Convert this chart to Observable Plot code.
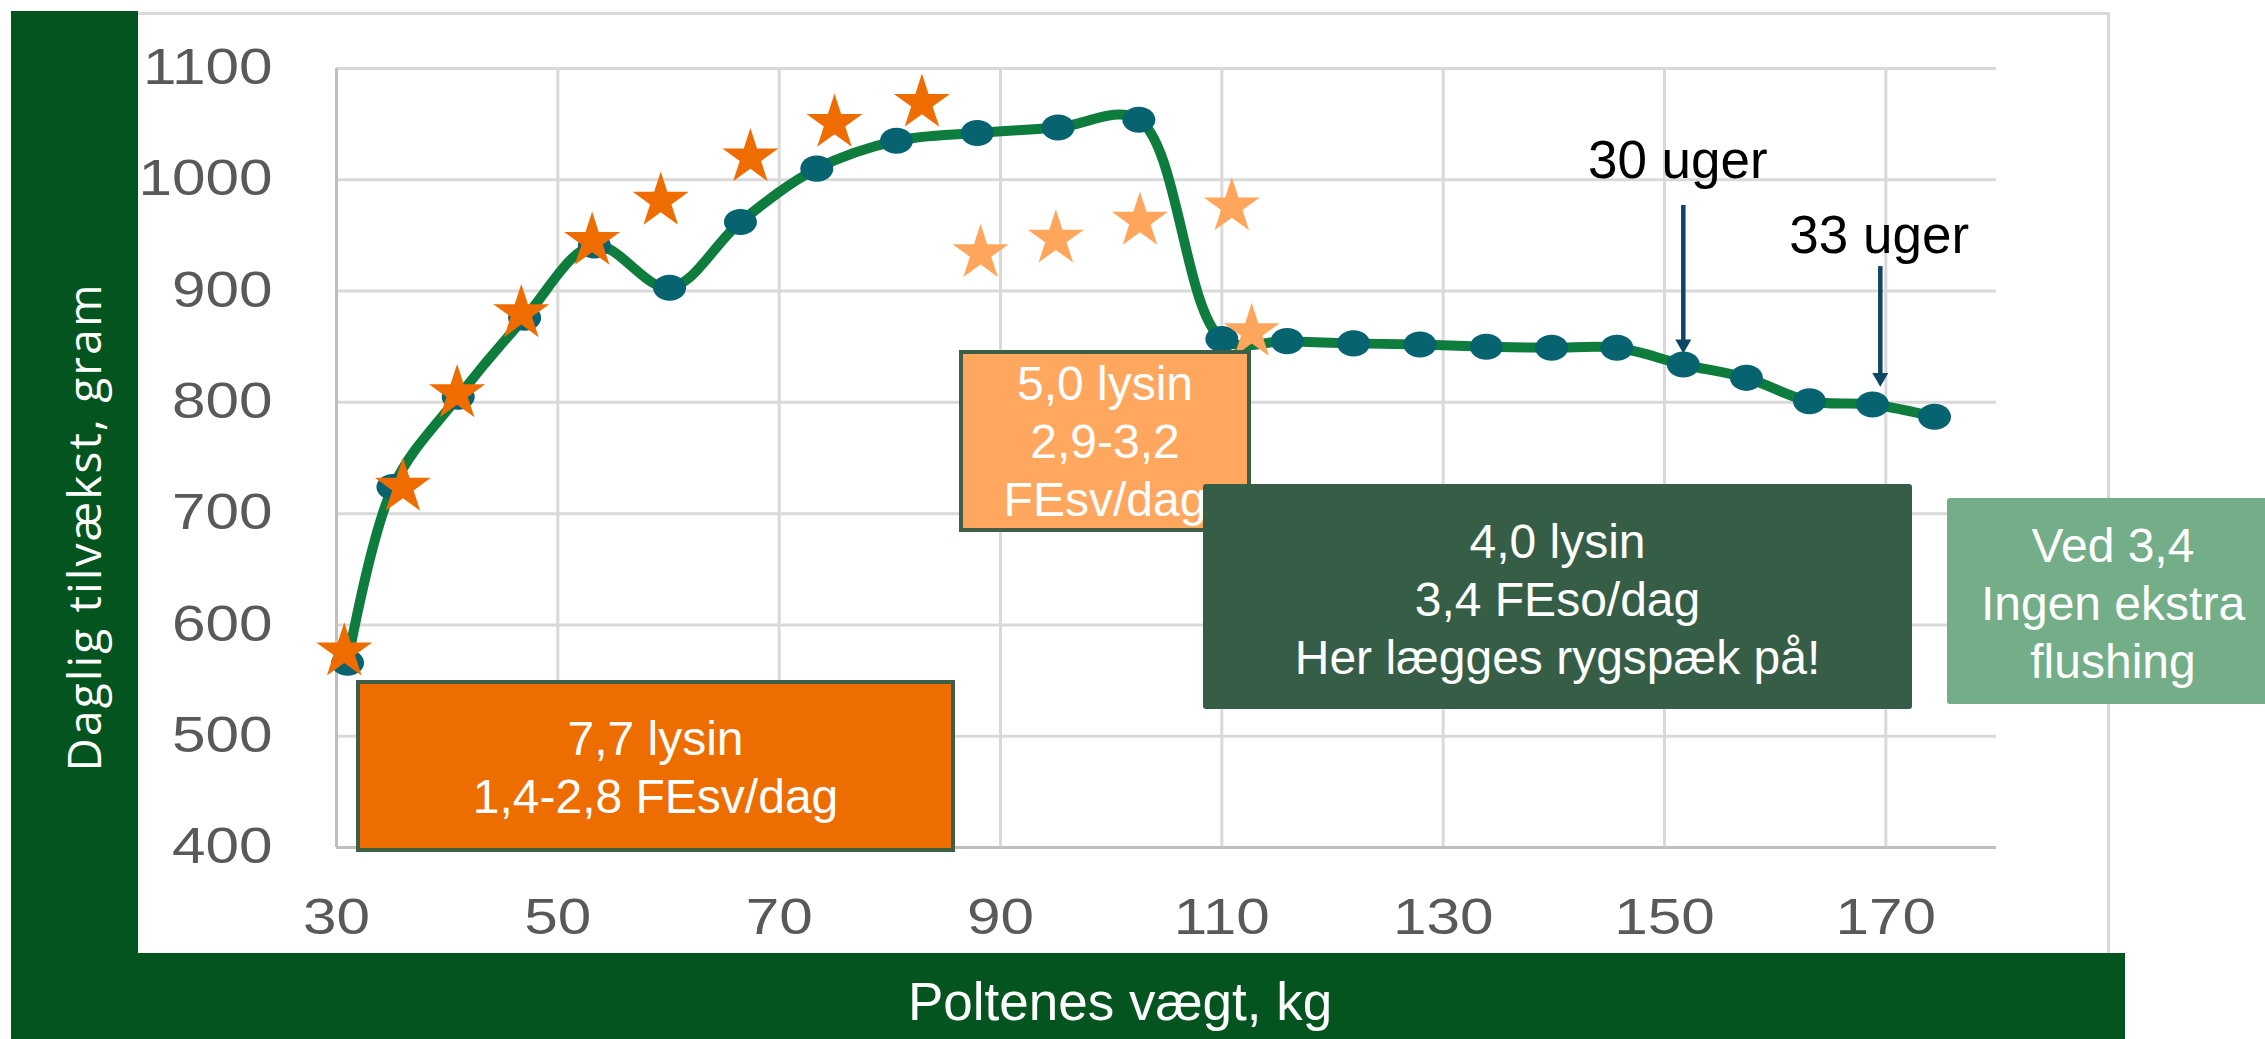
<!DOCTYPE html>
<html><head><meta charset="utf-8">
<script src="https://cdn.jsdelivr.net/npm/d3@7"></script>
<script src="https://cdn.jsdelivr.net/npm/@observablehq/plot@0.6"></script>
<style>
html,body{margin:0;padding:0;background:#fff;overflow:hidden;width:2265px;height:1039px;}
#wrap{position:relative;width:2265px;height:1039px;overflow:hidden;font-family:"Liberation Sans",Arial,sans-serif;}
.frame{position:absolute;left:11px;top:11.5px;width:2098.5px;height:960px;border:3px solid #d9d9d9;box-sizing:border-box;}
.band{position:absolute;background:#03541f;}
#chart{position:absolute;left:0;top:0;}
#chart svg{overflow:visible;}
.box{position:absolute;box-sizing:border-box;display:flex;flex-direction:column;justify-content:center;align-items:center;color:#fff;font-size:48px;line-height:58px;text-align:center;white-space:nowrap;overflow:hidden;}
</style></head>
<body><div id="wrap">
<div class="frame"></div>
<div class="band" style="left:11px;top:11px;width:126.5px;height:1028px"></div>
<div class="band" style="left:11px;top:953px;width:2114px;height:86px"></div>
<div id="chart"></div>
<div class="box" style="left:356px;top:679.5px;width:599px;height:172.5px;background:#ee6d00;border:4px solid #3e5f46;padding-top:5px"><div>7,7 lysin</div><div>1,4-2,8 FEsv/dag</div></div>
<div class="box" style="left:959px;top:350px;width:292px;height:181.5px;background:#ffa75e;border:4px solid #3e5f46;padding-top:3px"><div>5,0 lysin</div><div>2,9-3,2</div><div>FEsv/dag</div></div>
<div class="box" style="left:1203px;top:484px;width:709px;height:225px;background:#365e47;border-radius:3px;padding-top:7px"><div>4,0 lysin</div><div>3,4 FEso/dag</div><div>Her lægges rygspæk på!</div></div>
<div class="box" style="left:1947px;top:497.5px;width:332px;height:206.5px;background:#73ae88;border-radius:3px;padding-top:6px"><div>Ved 3,4</div><div>Ingen ekstra</div><div>flushing</div></div>
</div>
<script>
// axis ticks
const xTicks = [30, 50, 70, 90, 110, 130, 150, 170];
const yTicks = [400, 500, 600, 700, 800, 900, 1000, 1100];

// main series: daily gain (line with markers)
const weightKg = [31.0, 35.1, 41.0, 47.0, 53.3, 60.1, 66.5, 73.4, 80.6, 87.9, 95.2, 102.5,
                  110.0, 115.9, 121.9, 127.9, 133.9, 139.8, 145.7, 151.7, 157.4, 163.1, 168.8, 174.4];
const gainG    = [566, 724, 805, 876, 941, 903, 962, 1010, 1035, 1042, 1047, 1054,
                  857, 855, 853, 852, 850, 849, 849, 834, 822, 801, 798, 787];

// star series (dark orange)
const starDarkKg = [30.7, 36.0, 40.9, 46.7, 53.1, 59.3, 67.4, 75.0, 82.9];
const starDarkG  = [576, 724, 808, 880, 945, 981, 1020, 1051, 1069];
// star series (light orange)
const starLightKg = [88.2, 95.0, 102.6, 110.9, 112.7];
const starLightG  = [934, 947, 963, 976, 863];

// week annotations
const weekLabels = ["30 uger", "33 uger"];
const weekKg     = [151.7, 169.5];
const weekFromG  = [977, 922];
const weekToG    = [844, 814];
const weekTextKg = [151.2, 169.4];
const weekTextG  = [1002, 934];

const xTitle = "Poltenes vægt, kg";
const yTitle = "Daglig tilvækst, gram";

const growth = weightKg.map((kg, i) => ({kg, g: gainG[i]}));
const starsDark = starDarkKg.map((kg, i) => ({kg, g: starDarkG[i]}));
const starsLight = starLightKg.map((kg, i) => ({kg, g: starLightG[i]}));
const weeks = weekLabels.map((label, i) => ({label, kg: weekKg[i], from: weekFromG[i], to: weekToG[i], tkg: weekTextKg[i], tg: weekTextG[i]}));

const ellipse = {
  draw(ctx, size) {
    const r = Math.sqrt(size / Math.PI), rx = r, ry = r * 0.79, k = 0.5522847498;
    ctx.moveTo(rx, 0);
    ctx.bezierCurveTo(rx, ry * k, rx * k, ry, 0, ry);
    ctx.bezierCurveTo(-rx * k, ry, -rx, ry * k, -rx, 0);
    ctx.bezierCurveTo(-rx, -ry * k, -rx * k, -ry, 0, -ry);
    ctx.bezierCurveTo(rx * k, -ry, rx, -ry * k, rx, 0);
    ctx.closePath();
  }
};

const grid = {stroke: "#d9d9d9", strokeOpacity: 1, strokeWidth: 3};
const arrowColor = "#0d4662";
const chart = Plot.plot({
  width: 2265, height: 1039,
  marginLeft: 336, marginRight: 269, marginTop: 68, marginBottom: 192,
  x: {domain: [30, 180]},
  y: {domain: [400, 1100]},
  style: {background: "transparent", fontFamily: "Liberation Sans, Arial, sans-serif"},
  marks: [
    Plot.gridY(yTicks.filter(d => d > 400), grid),
    Plot.gridX(xTicks.filter(d => d > 30), grid),
    Plot.ruleY([400], {stroke: "#bfbfbf", strokeWidth: 3}),
    Plot.ruleX([30], {stroke: "#bfbfbf", strokeWidth: 3}),
    Plot.axisY(yTicks, {tickSize: 0, tickPadding: 64, fontSize: 49, fill: "#595959", label: null, tickFormat: d => String(d)}),
    Plot.axisX(xTicks, {tickSize: 0, tickPadding: 52, fontSize: 49, fill: "#595959", label: null, tickFormat: d => String(d)}),
    Plot.line(growth, {x: "kg", y: "g", curve: "catmull-rom", stroke: "#0e7c3d", strokeWidth: 10}),
    Plot.dot(growth, {x: "kg", y: "g", symbol: ellipse, r: 16.5, fill: "#07636f", stroke: "none"}),
    Plot.dot(starsDark, {x: "kg", y: "g", symbol: "star", r: 17.6, fill: "#ee6c00", stroke: "none"}),
    Plot.dot(starsLight, {x: "kg", y: "g", symbol: "star", r: 17.6, fill: "#ffa65c", stroke: "none"}),
    Plot.ruleX(weeks, {x: "kg", y1: "from", y2: "to", stroke: arrowColor, strokeWidth: 4.5, insetBottom: 12}),
    Plot.dot(weeks, {x: "kg", y: "to", symbol: "triangle", rotate: 180, r: 5.94, dy: -9.2, fill: arrowColor, stroke: "none"}),
    Plot.text(weeks, {x: "tkg", y: "tg", text: "label", lineAnchor: "bottom", fontSize: 53, fill: "#000"}),
    Plot.text([yTitle], {frameAnchor: "left", textAnchor: "middle", rotate: -90, dx: -236, dy: 70, lineAnchor: "bottom", fill: "#fff", fontSize: 46, fontFamily: "Open Sans"}),
    Plot.text([xTitle], {frameAnchor: "bottom", textAnchor: "middle", dx: -46.4, dy: 172.3, lineAnchor: "bottom", fill: "#fff", fontSize: 53})
  ]
});
document.getElementById("chart").appendChild(chart);

// widen the tick label glyphs horizontally like the reference
chart.querySelectorAll('g[aria-label="y-axis tick label"] text, g[aria-label="x-axis tick label"] text').forEach(t => {
  const tr = t.getAttribute("transform");
  if (tr) t.setAttribute("transform", tr + " scale(1.23,1)");
});
// stretch the y title to the reference's length
chart.querySelectorAll("text").forEach(t => {
  if (t.textContent === yTitle) {
    t.setAttribute("textLength", 487);
    t.setAttribute("lengthAdjust", "spacing");
  }
});
</script>
</body></html>
